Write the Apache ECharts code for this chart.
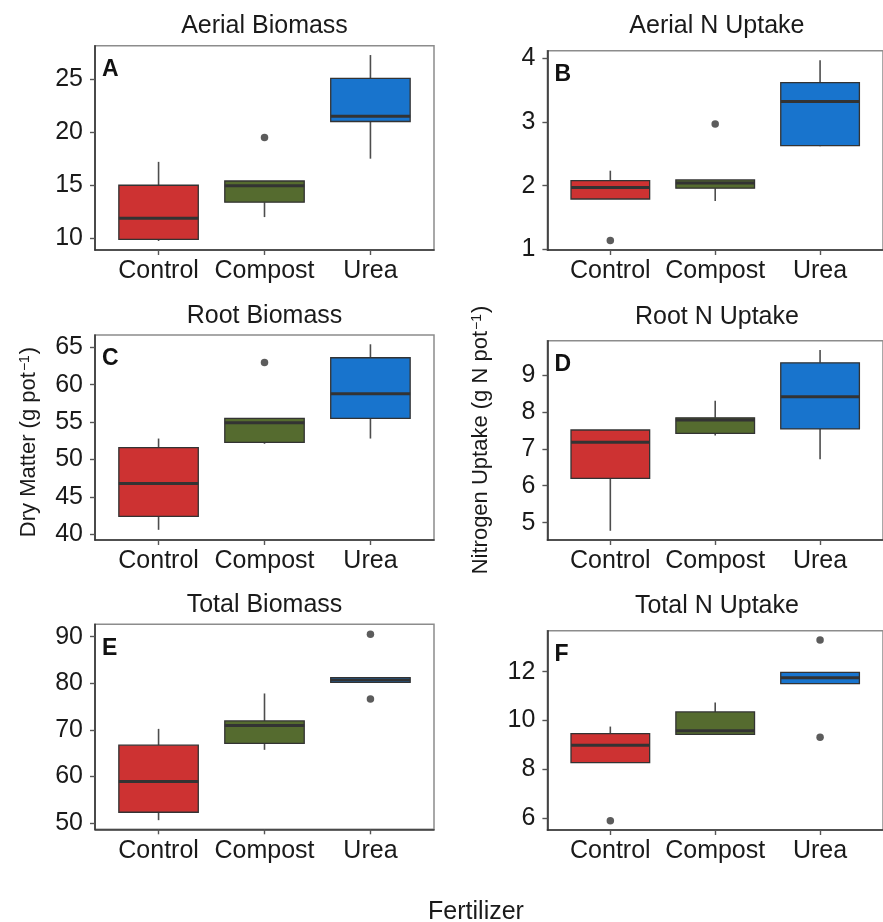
<!DOCTYPE html>
<html>
<head>
<meta charset="utf-8">
<title>Fertilizer effects on biomass and N uptake</title>
<script src="https://cdn.jsdelivr.net/npm/echarts@6/dist/echarts.min.js"></script>
<style>
  html, body { margin: 0; padding: 0; background: #fff; }
  #chart { width: 883px; height: 922px; }
</style>
</head>
<body>
<div id="chart"></div>
<script>
// Treatments on the x axis of every panel
const categories = ['Control', 'Compost', 'Urea'];
const fillColors = ['#CD3232', '#556B2F', '#1874CD'];

// Box summaries per treatment: [lower whisker, Q1, median, Q3, upper whisker]
const aerialBiomass = [
  [9.75, 9.9, 11.9, 15.0, 17.2],
  [12.0, 13.4, 14.95, 15.4, 15.4],
  [17.5, 21.0, 21.5, 25.07, 27.26]
];
const aerialBiomassOutliers = [[2, 19.5]];

const aerialNUptake = [
  [1.79, 1.79, 1.97, 2.08, 2.235],
  [1.76, 1.96, 2.04, 2.09, 2.09],
  [2.62, 2.63, 3.32, 3.62, 3.97]
];
const aerialNUptakeOutliers = [[1, 1.14], [2, 2.97]];

const rootBiomass = [
  [40.6, 42.4, 46.8, 51.6, 52.8],
  [52.1, 52.3, 54.9, 55.5, 55.5],
  [52.8, 55.5, 58.8, 63.6, 65.4]
];
const rootBiomassOutliers = [[2, 62.95]];

const rootNUptake = [
  [4.78, 6.2, 7.18, 7.51, 7.51],
  [7.36, 7.42, 7.78, 7.84, 8.3],
  [6.72, 7.54, 8.41, 9.33, 9.68]
];
const rootNUptakeOutliers = [];

const totalBiomass = [
  [50.6, 52.3, 58.9, 66.7, 70.2],
  [65.7, 67.1, 70.9, 71.9, 77.8],
  [80.2, 80.2, 80.7, 81.2, 81.2]
];
const totalBiomassOutliers = [[3, 90.5], [3, 76.6]];

const totalNUptake = [
  [8.27, 8.27, 8.98, 9.46, 9.75],
  [9.43, 9.43, 9.58, 10.35, 10.74],
  [11.51, 11.51, 11.75, 11.97, 11.97]
];
const totalNUptakeOutliers = [[1, 5.89], [3, 13.3], [3, 9.31]];

// Tick values on each y axis
const ticksA = [10, 15, 20, 25];
const ticksB = [1, 2, 3, 4];
const ticksC = [40, 45, 50, 55, 60, 65];
const ticksD = [5, 6, 7, 8, 9];
const ticksE = [50, 60, 70, 80, 90];
const ticksF = [6, 8, 10, 12];

const FONT = "'Liberation Sans', Arial, Helvetica, sans-serif";

const panels = [
  { title: 'Aerial Biomass', tag: 'A', box: aerialBiomass, out: aerialBiomassOutliers, ticks: ticksA, min: 8.9, max: 28.14,
    left: 95, top: 45.7, height: 204.3, titleY: 26 },
  { title: 'Aerial N Uptake', tag: 'B', box: aerialNUptake, out: aerialNUptakeOutliers, ticks: ticksB, min: 0.989, max: 4.12,
    left: 547.4, top: 50.7, height: 199.3, titleY: 26 },
  { title: 'Root Biomass', tag: 'C', box: rootBiomass, out: rootBiomassOutliers, ticks: ticksC, min: 39.24, max: 66.64,
    left: 95, top: 335, height: 205, titleY: 316 },
  { title: 'Root N Uptake', tag: 'D', box: rootNUptake, out: rootNUptakeOutliers, ticks: ticksD, min: 4.53, max: 9.93,
    left: 547.4, top: 340.7, height: 199.3, titleY: 317 },
  { title: 'Total Biomass', tag: 'E', box: totalBiomass, out: totalBiomassOutliers, ticks: ticksE, min: 48.64, max: 92.65,
    left: 95, top: 624.3, height: 205, titleY: 605 },
  { title: 'Total N Uptake', tag: 'F', box: totalNUptake, out: totalNUptakeOutliers, ticks: ticksF, min: 5.51, max: 13.68,
    left: 547.4, top: 630.7, height: 199.3, titleY: 606 }
];

const PANEL_W = 339;

// Box, whiskers and median drawn from the axis scales
function renderBox(params, api) {
  const x = api.value(0);
  const lo = api.coord([x, api.value(1)]);
  const q1 = api.coord([x, api.value(2)]);
  const med = api.coord([x, api.value(3)]);
  const q3 = api.coord([x, api.value(4)]);
  const hi = api.coord([x, api.value(5)]);
  const bw = api.size([1, 0])[0] * 0.75;
  const cx = med[0];
  const fill = fillColors[x - 1];
  return {
    type: 'group',
    children: [
      { type: 'line', shape: { x1: cx, y1: hi[1], x2: cx, y2: q3[1] },
        style: { stroke: '#4d4d4d', lineWidth: 1.6 } },
      { type: 'line', shape: { x1: cx, y1: q1[1], x2: cx, y2: lo[1] },
        style: { stroke: '#4d4d4d', lineWidth: 1.6 } },
      { type: 'rect', shape: { x: cx - bw / 2, y: q3[1], width: bw, height: q1[1] - q3[1] },
        style: { fill: fill, stroke: '#333333', lineWidth: 1.3 } },
      { type: 'line', shape: { x1: cx - bw / 2, y1: med[1], x2: cx + bw / 2, y2: med[1] },
        style: { stroke: '#333333', lineWidth: 3 } }
    ]
  };
}

const grid = [], xAxis = [], yAxis = [], series = [], graphic = [];

panels.forEach((p, i) => {
  grid.push({
    left: p.left, top: p.top, width: PANEL_W, height: p.height,
    show: true, borderColor: '#8c8c8c', borderWidth: 1.5, backgroundColor: '#ffffff'
  });
  xAxis.push({
    type: 'value', gridIndex: i, min: 0.4, max: 3.6,
    splitLine: { show: false },
    axisLine: { show: true, onZero: false, lineStyle: { color: '#333333', width: 1.6 } },
    axisTick: { show: true, length: 5, customValues: [1, 2, 3], lineStyle: { color: '#555555', width: 1.4 } },
    axisLabel: {
      customValues: [1, 2, 3], margin: 9,
      formatter: v => categories[Math.round(v) - 1],
      color: '#1a1a1a', fontSize: 25, fontFamily: FONT
    }
  });
  yAxis.push({
    type: 'value', gridIndex: i, min: p.min, max: p.max,
    splitLine: { show: false },
    axisLine: { show: true, onZero: false, lineStyle: { color: '#333333', width: 1.6 } },
    axisTick: { show: true, length: 5, customValues: p.ticks, lineStyle: { color: '#555555', width: 1.4 } },
    axisLabel: {
      customValues: p.ticks, margin: 12,
      color: '#1a1a1a', fontSize: 25, fontFamily: FONT
    }
  });
  series.push({
    type: 'custom', xAxisIndex: i, yAxisIndex: i,
    renderItem: renderBox,
    encode: { x: 0, y: [1, 2, 3, 4, 5] },
    data: p.box.map((b, k) => [k + 1].concat(b)),
    z: 3
  });
  series.push({
    type: 'scatter', xAxisIndex: i, yAxisIndex: i,
    data: p.out, symbol: 'circle', symbolSize: 7.5,
    itemStyle: { color: '#333333' }, z: 4
  });
  graphic.push({
    type: 'text', x: p.left + PANEL_W / 2, y: p.titleY,
    style: { text: p.title, fontSize: 25, fontFamily: FONT, fill: '#1a1a1a', align: 'center', verticalAlign: 'middle' }
  });
  graphic.push({
    type: 'text', x: p.left + 7, y: p.top + 24,
    style: { text: p.tag, fontSize: 23, fontWeight: 'bold', fontFamily: FONT, fill: '#111111', align: 'left', verticalAlign: 'middle' },
    z: 10
  });
});

// Shared axis titles
const supStyle = { fontSize: 14, fontFamily: FONT, fill: '#1a1a1a', verticalAlign: 'top', padding: [0, 1, 8, 1] };
graphic.push({
  type: 'text', x: 29, y: 442, rotation: Math.PI / 2,
  style: {
    text: 'Dry Matter (g pot{sup|−1})', fontSize: 22, fontFamily: FONT, fill: '#1a1a1a',
    align: 'center', verticalAlign: 'middle', rich: { sup: supStyle }
  }
});
graphic.push({
  type: 'text', x: 481, y: 440, rotation: Math.PI / 2,
  style: {
    text: 'Nitrogen Uptake (g N pot{sup|−1})', fontSize: 22, fontFamily: FONT, fill: '#1a1a1a',
    align: 'center', verticalAlign: 'middle', rich: { sup: supStyle }
  }
});
graphic.push({
  type: 'text', x: 476, y: 912,
  style: { text: 'Fertilizer', fontSize: 25, fontFamily: FONT, fill: '#1a1a1a', align: 'center', verticalAlign: 'middle' }
});

const chart = echarts.init(document.getElementById('chart'), null, { renderer: 'canvas' });
chart.setOption({
  animation: false,
  backgroundColor: '#ffffff',
  grid, xAxis, yAxis, series, graphic
});
</script>
</body>
</html>
